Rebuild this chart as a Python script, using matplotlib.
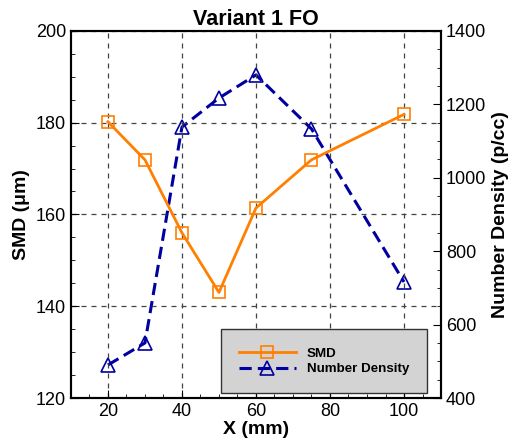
import matplotlib
matplotlib.use("Agg")
import matplotlib.pyplot as plt
from matplotlib.ticker import MultipleLocator

x = [20, 30, 40, 50, 60, 75, 100]
smd = [180.2, 171.9, 156.0, 143.0, 161.4, 171.9, 181.8]
nd = [490, 550, 1138, 1217, 1280, 1133, 716]

plt.rcParams['font.family'] = ['Liberation Sans', 'DejaVu Sans']

fig = plt.figure(figsize=(5.14, 4.41), dpi=100)
ax = fig.add_axes([0.138, 0.0975, 0.72, 0.8325])
ax2 = ax.twinx()

orange = '#FF7F00'
blue = '#0000A0'

l1, = ax.plot(x, smd, color=orange, lw=2, marker='s', ms=9, mfc='none', mec=orange, mew=1.2, label='SMD')
l2, = ax2.plot(x, nd, color=blue, lw=2.2, ls=(0, (4, 2)), marker='^', ms=10, mfc='none', mec=blue, mew=1.2, label='Number Density')

ax.set_xlim(10, 110)
ax.set_ylim(120, 200)
ax2.set_ylim(400, 1400)
ax.xaxis.set_major_locator(MultipleLocator(20))
ax.xaxis.set_minor_locator(MultipleLocator(5))
ax.yaxis.set_major_locator(MultipleLocator(20))
ax.yaxis.set_minor_locator(MultipleLocator(5))
ax2.yaxis.set_major_locator(MultipleLocator(200))
ax2.yaxis.set_minor_locator(MultipleLocator(50))

for a in (ax, ax2):
    a.tick_params(which='both', direction='in', labelsize=13)
    a.tick_params(which='major', length=6)
    a.tick_params(which='minor', length=3)
    for s in a.spines.values():
        s.set_linewidth(1.5)
ax.tick_params(axis='x', which='both', top=False)

ax.grid(True, which='major', ls=(0, (4, 4)), color='#444444', lw=0.9)
ax.set_axisbelow(True)

ax.set_title('Variant 1 FO', fontsize=15.5, fontweight='bold', pad=4)
ax.set_xlabel('X (mm)', fontsize=14, fontweight='bold', labelpad=1)
ax.set_ylabel('SMD (\u03bcm)', fontsize=14, fontweight='bold', labelpad=4)
ax2.set_ylabel('Number Density (p/cc)', fontsize=14, fontweight='bold', labelpad=4)

ax.set_zorder(ax2.get_zorder() + 1)
ax.patch.set_visible(False)

leg = ax.legend([l1, l2], ['SMD', 'Number Density'], loc='lower right',
                bbox_to_anchor=(0.962, 0.013), frameon=True, fancybox=False,
                facecolor='#D3D3D3', edgecolor='#333333', framealpha=1,
                prop={'weight': 'bold', 'size': 9.6}, handlelength=4.3,
                handletextpad=0.8, borderpad=1.35, labelspacing=0.25, borderaxespad=0)
leg.get_frame().set_linewidth(1.0)

fig.savefig('out.png', dpi=100)
